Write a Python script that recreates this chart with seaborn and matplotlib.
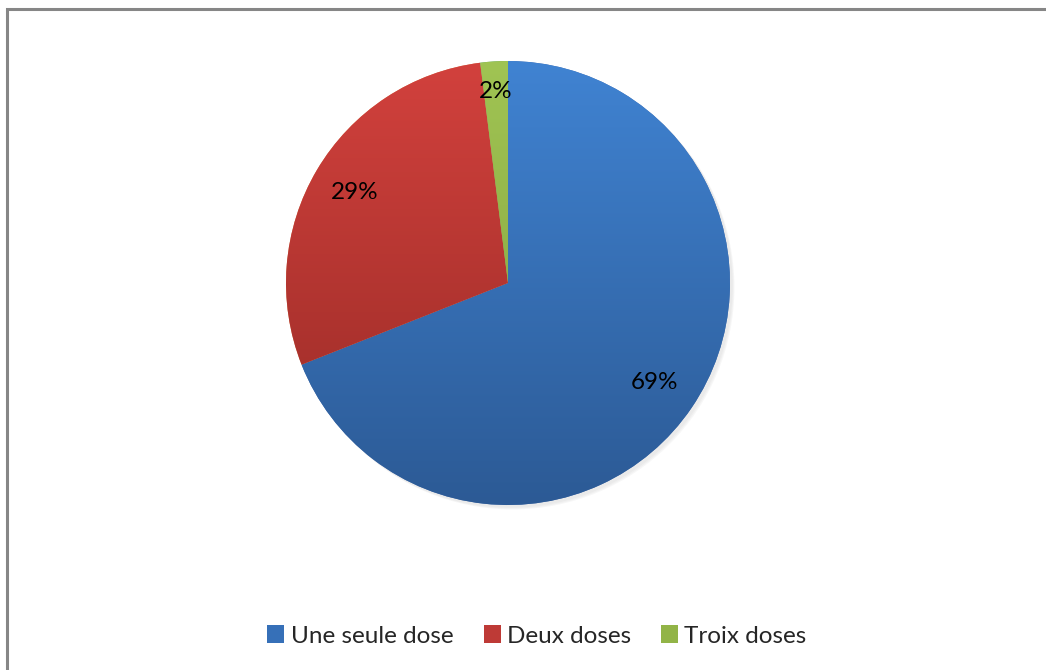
import numpy as np
import matplotlib
matplotlib.use("Agg")
import matplotlib.pyplot as plt
import seaborn as sns
from matplotlib.colors import LinearSegmentedColormap
from matplotlib.patches import Patch, Rectangle, Circle

labels = ["Une seule dose", "Deux doses", "Troix doses"]
values = [69, 29, 2]
top_colors = ["#4083D2", "#D2413D", "#A0C453"]
bottom_colors = ["#2C5A95", "#962A25", "#819F3C"]
mid_colors = ["#3670B8", "#BE3A36", "#92B447"]

sns.set_theme(style="white")
plt.rcParams['font.family'] = ['Lato', 'DejaVu Sans']

fig = plt.figure(figsize=(10.46, 6.70), dpi=100)
fig.patch.set_facecolor("white")

# outer frame (cut off at right/bottom like the source)
fig.patches.append(Rectangle((7 / 1046, -0.1), 1.2, 1 - 9 / 670 + 0.1,
                             transform=fig.transFigure, fill=False,
                             edgecolor="#868686", linewidth=2.2))

ax = fig.add_axes([(508 - 222) / 1046, (387 - 222) / 670, 444 / 1046, 444 / 670])
ax.set_aspect("equal")
ax.axis("off")

# soft shadow
for k, a in enumerate([0.05, 0.05, 0.06]):
    ax.add_patch(Circle((0.012 + 0.004 * k, -0.012 - 0.004 * k), 1.0,
                        color="#7f7f7f", alpha=a, lw=0, zorder=0, clip_on=False))

wedges, texts, autotexts = ax.pie(values, startangle=90, counterclock=False,
                                  radius=1.0, autopct="%d%%", pctdistance=0.8,
                                  wedgeprops=dict(linewidth=0),
                                  textprops=dict(fontsize=17.5, color="black"))

grad = np.linspace(0, 1, 256).reshape(-1, 1)
for w, c0, c1 in zip(wedges, top_colors, bottom_colors):
    cmap = LinearSegmentedColormap.from_list("g", [c0, c1])
    im = ax.imshow(grad, extent=(-1, 1, -1, 1), cmap=cmap, aspect="auto",
                   origin="upper", zorder=2, interpolation="bilinear")
    im.set_clip_path(w)

for t in autotexts:
    t.set_zorder(5)
# small slice label sits closer to the rim
x, y = autotexts[2].get_position()
autotexts[2].set_position((x * 1.08, y * 1.08))

ax.set_xlim(-1, 1)
ax.set_ylim(-1, 1)

handles = [Patch(facecolor=c, edgecolor="none") for c in mid_colors]
fig.legend(handles, labels, loc="center", bbox_to_anchor=(537 / 1046, 1 - 636 / 670),
           ncol=3, frameon=False, fontsize=17.5, handlelength=0.7, handleheight=0.7,
           handletextpad=0.25, columnspacing=1.25)

fig.savefig("out.png", dpi=100)
